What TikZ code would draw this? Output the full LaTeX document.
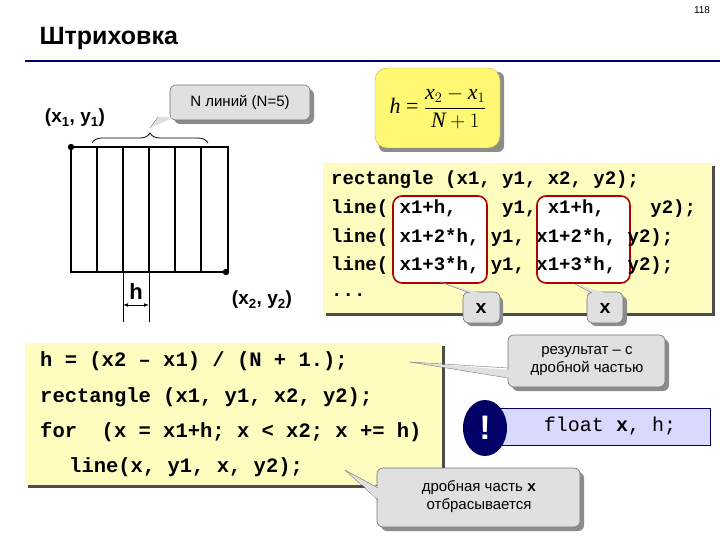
\documentclass[tikz,border=0pt]{standalone}
\usepackage{fontspec}
\setmainfont{Liberation Sans}
\newfontfamily\cmono{Liberation Mono}
\newfontfamily\mserif{Liberation Serif}
\usetikzlibrary{decorations.pathreplacing,arrows.meta,shapes.geometric}
\tikzset{
 call/.style={fill=black!12,draw=black!55,rounded corners=6pt,line width=0.6pt},
 shad/.style={fill=black!45,rounded corners=6pt},
 ybox/.style={fill=yellow!25!white,draw=none},
 redbox/.style={draw=red!70!black,line width=1.6pt,rounded corners=9pt,fill=white},
 code/.style={font=\cmono\bfseries\fontsize{19}{29}\selectfont,anchor=west,inner sep=0pt},
 codeb/.style={font=\cmono\bfseries\fontsize{20.5}{30}\selectfont,anchor=west,inner sep=0pt},
 lab/.style={font=\fontsize{15}{18}\selectfont,align=center},
 pt/.style={font=\bfseries\fontsize{19}{22}\selectfont}
}
\begin{document}
\begin{tikzpicture}[x=1pt,y=-1pt]
\useasboundingbox (0,0) rectangle (720,540);
\node[font=\fontsize{10}{12}\selectfont] (pg) at (702,10) {118};
\node[font=\bfseries\fontsize{25}{28}\selectfont,anchor=west] (title) at (36,38) {Штриховка};
\draw[draw=blue!40!black,line width=2pt] (25,61) -- (720,61);
% grid
\draw[line width=1.2pt] (71,147) rectangle (228,272);
\foreach \x in {97,123,149,175,201} \draw[line width=1.2pt] (\x,147) -- (\x,272);
\fill (71,147) circle (3.2pt);
\fill (226,272) circle (3.2pt);
\node[pt] (p1) at (75,118) {(x\textsubscript{1}, y\textsubscript{1})};
\node[pt] (p2) at (262,300) {(x\textsubscript{2}, y\textsubscript{2})};
\draw[line width=0.5pt] (123,272) -- (123,322) (149,272) -- (149,322);
\draw[{Latex[length=5pt]}-{Latex[length=5pt]},line width=0.8pt] (123,305) -- (149,305);
\node[font=\bfseries\fontsize{22}{24}\selectfont] (h) at (136,292) {h};
\draw[decorate,decoration={brace,amplitude=10pt},line width=0.8pt] (92,143) -- (208,143);
\coordinate (bt) at (150,128);
% N callout
\fill[shad] (174,89) rectangle (314,124);
\draw[call] (170,85) rectangle (310,120);
\fill[black!12] (158,117) -- (bt) -- (175,117) -- cycle;
\draw[black!55] (158,117) -- (bt);
\node[lab] (nl) at (240,102) {N линий (N=5)};
% formula
\fill[shad] (379,72) rectangle (504,152);
\fill[yellow!55!white,rounded corners=12pt,draw=yellow!70!black] (375,68) rectangle (500,148);
\node[font=\mserif\fontsize{22}{24}\selectfont] (fm) at (438,108) {\textit{h} = $\displaystyle\frac{\textit{x}_2-\textit{x}_1}{\textit{N}+1}$};
% code box 1
\fill[black!70] (326,166) rectangle (715,316);
\fill[ybox] (323,163) rectangle (712,313);
\draw[redbox] (393,196) rectangle (487,283);
\draw[redbox] (537,196) rectangle (630,283);
\node[code] (c1) at (331,180) {rectangle (x1, y1, x2, y2);};
\node[code] (c2) at (331,209) {line( x1+h,\ \ \ \ y1, x1+h,\ \ \ \ y2);};
\node[code] (c3) at (331,238) {line( x1+2*h, y1, x1+2*h, y2);};
\node[code] (c4) at (331,266) {line( x1+3*h, y1, x1+3*h, y2);};
\node[code] (c5) at (331,295) {...};
% x callouts
\fill[shad] (466,296) rectangle (503,326);
\draw[call] (463,292) rectangle (500,323);
\fill[black!12] (440,282) -- (470,293) -- (480,293) -- cycle;
\draw[black!55] (440,282) -- (470,293);
\node[code,anchor=center] (xa) at (481,308) {x};
\fill[shad] (590,296) rectangle (627,326);
\draw[call] (587,292) rectangle (623,323);
\fill[black!12] (575,284) -- (592,293) -- (605,293) -- cycle;
\draw[black!55] (575,284) -- (592,293);
\node[code,anchor=center] (xb) at (605,308) {x};
% code box 2
\fill[black!70] (28,346) rectangle (445,488);
\fill[ybox] (25,343) rectangle (442,485);
\node[codeb] (d1) at (40,361) {h = (x2 – x1) / (N + 1.);};
\node[codeb] (d2) at (40,397) {rectangle (x1, y1, x2, y2);};
\node[codeb] (d3) at (40,432) {for\ \ (x = x1+h; x < x2; x += h)};
\node[codeb] (d4) at (69,467) {line(x, y1, x, y2);};
% result callout
\fill[shad] (512,339) rectangle (669,391);
\draw[call] (508,335) rectangle (665,387);
\fill[black!12] (410,362) -- (510,370) -- (510,378) -- cycle;
\draw[black!55] (410,362) -- (508,368);
\draw[black!55] (410,362) -- (508,378);
\node[lab] (r) at (587,361) {результат – с\\дробной частью};
% float
\fill[blue!15!white,draw=blue!40!black,line width=0.6pt] (500,408) rectangle (710,445);
\node[ellipse,fill=blue!40!black,minimum width=44pt,minimum height=56pt,inner sep=0pt,text=white,font=\bfseries\fontsize{34}{36}\selectfont] (ex) at (485,428) {!};
\node[code,anchor=center,font=\cmono\fontsize{20}{24}\selectfont] (fl) at (610,426) {float \textbf{x}, h;};
% drop callout
\fill[shad] (381,472) rectangle (584,531);
\draw[call] (377,468) rectangle (580,527);
\fill[black!12] (345,470) -- (380,488) -- (380,500) -- cycle;
\draw[black!55] (345,470) -- (378,488);
\draw[black!55] (345,470) -- (378,500);
\node[lab] (dp) at (479,497) {дробная часть {\cmono\bfseries x}\\отбрасывается};
\end{tikzpicture}
\end{document}
